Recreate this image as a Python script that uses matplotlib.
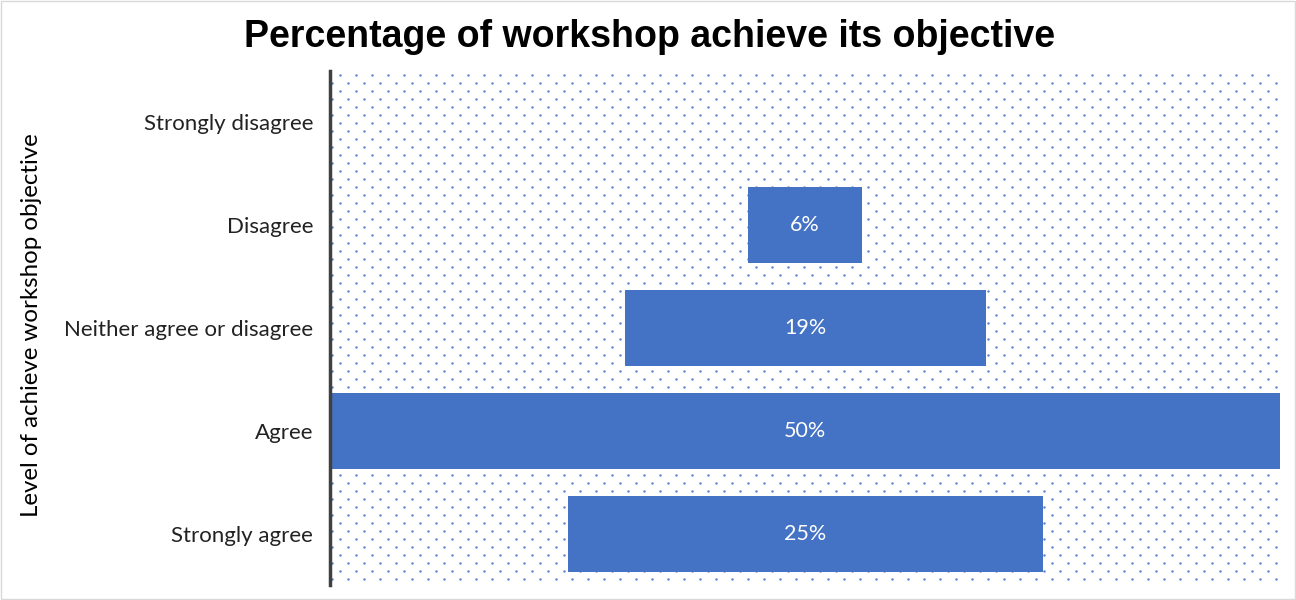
import numpy as np
import matplotlib.pyplot as plt
from matplotlib.patches import Rectangle

categories = ["Strongly disagree", "Disagree", "Neither agree or disagree", "Agree", "Strongly agree"]
values = [0, 6, 19, 50, 25]
labels = ["", "6%", "19%", "50%", "25%"]

fig = plt.figure(figsize=(12.96, 6), dpi=100)
ax = fig.add_axes([330 / 1296, 1 - 585 / 600, 950 / 1296, 514 / 600])

# dotted background pattern (pixel spacing 16 x 8, staggered rows)
w_px, h_px = 950, 514
dx, dy = [], []
for i, yp in enumerate(np.arange(4, h_px, 8)):
    off = 10 if i % 2 == 0 else 2
    for xp in np.arange(off, w_px, 16):
        dx.append(xp / w_px)
        dy.append(1 - yp / h_px)
ax.scatter(dx, dy, s=3.0, color="#4472C4", alpha=0.9, linewidths=0,
           transform=ax.transAxes, zorder=0)

ypos = np.arange(len(categories))
left = [(50 - v) / 2 for v in values]
ax.barh(ypos, values, left=left, height=0.74, color="#4472C4", zorder=2)
for y, l, v, t in zip(ypos, left, values, labels):
    if t:
        ax.text(l + v / 2, y, t, ha="center", va="center", color="white",
                fontsize=15.5, family="Lato", zorder=3)

ax.set_xlim(0, 50)
ax.set_ylim(4.5, -0.5)
ax.set_yticks(ypos)
ax.set_yticklabels(categories, fontsize=16, family="Lato", color="#222222")
ax.tick_params(axis="y", length=0, pad=12)
ax.set_xticks([])
for s in ["top", "right", "bottom"]:
    ax.spines[s].set_visible(False)
ax.spines["left"].set_linewidth(2.5)
ax.spines["left"].set_color("#404040")
ax.patch.set_alpha(0)

fig.text(32 / 1296, 1 - 325 / 600, "Level of achieve workshop objective",
         rotation=90, ha="center", va="center", fontsize=17.3, family="Lato")
fig.text(650 / 1296, 1 - 37 / 600, "Percentage of workshop achieve its objective",
         ha="center", va="center", fontsize=27, fontweight="bold", family="Liberation Sans")

fig.patches.append(Rectangle((0.001, 0.001), 0.998, 0.997, transform=fig.transFigure,
                             fill=False, edgecolor="#d9d9d9", linewidth=1))

fig.savefig("out.png", dpi=100)
